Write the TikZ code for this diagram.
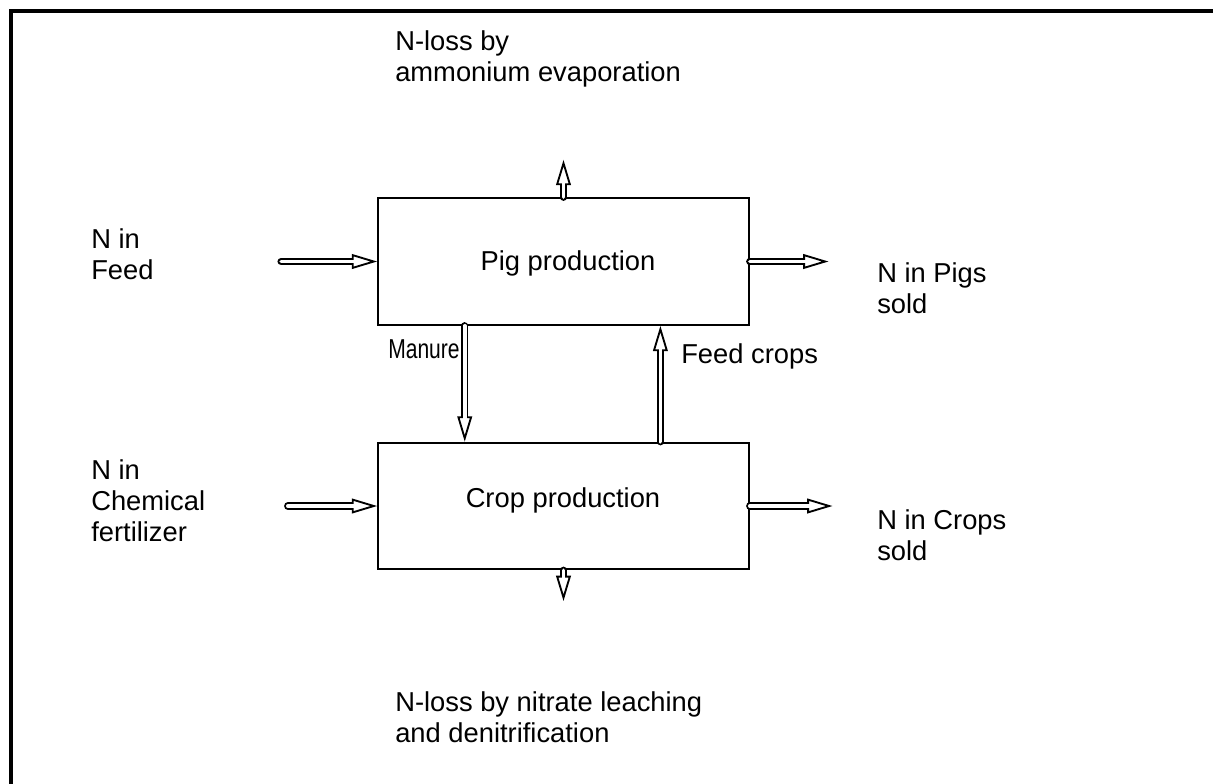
\documentclass[tikz,border=0pt]{standalone}
\usepackage{fontspec}
\setmainfont{Liberation Sans}
\usepackage{tikz}
\usetikzlibrary{positioning}
\usetikzlibrary{calc}
\usetikzlibrary{arrows.meta}

\begin{document}
\begin{tikzpicture}[
    x=0.75pt, y=-0.75pt,
    every node/.style={font=\fontsize{20.5}{23}\selectfont},
    stage/.style={draw, line width=1.5pt, minimum width=278pt, minimum height=95pt, inner sep=0pt},
    label/.style={align=left, inner sep=0pt, anchor=base west},
    flow/.style={line width=5.6pt, line cap=round,
        -{Triangle[length=19pt, width=11pt, fill=white, line width=1.4pt]},
        postaction={draw=white, line width=2.8pt, -, shorten >=14pt}}
]
\useasboundingbox (0,0) rectangle (1213,783);
\draw[line width=2.8pt] (11,820) -- (11,11) -- (1240,11);

\node[stage] (pig) at (563.5,261.5) {};
\node[stage] (crop) at (563.5,506) {};
\node[anchor=base] (pigtxt) at (568,270) {Pig production};
\node[anchor=base] (croptxt) at (563,507) {Crop production};

% texts, placed at the baseline of their last line
\node[label] (evaptxt) at (395,81) {N-loss by\\ammonium evaporation};
\node[label] (feedtxt) at (91,279) {N in\\Feed};
\node[label] (pigsold) at (877,313) {N in Pigs\\sold};
\node[label] (mantxt) at (388,358) {\scalebox{0.77}[1]{Manure}};
\node[label] (cropfeed) at (681,363) {Feed crops};
\node[label] (ferttxt) at (91,541) {N in\\Chemical\\fertilizer};
\node[label] (cropsold) at (877,560) {N in Crops\\sold};
\node[label] (leachtxt) at (395,742) {N-loss by nitrate leaching\\and denitrification};

% free ends
\coordinate (evap) at ([yshift=28pt]pig.north);
\coordinate (feedin) at ([xshift=-72pt]pig.west);
\coordinate (pigout) at ([xshift=59pt]pig.east);
\coordinate (fertin) at ([xshift=-67pt]crop.west);
\coordinate (cropout) at ([xshift=62pt]crop.east);
\coordinate (leach) at ([yshift=-23pt]crop.south);

\draw[flow] (pig.north) -- (evap);
\draw[flow] (feedin) -- (pig.west);
\draw[flow] (pig.east) -- (pigout);
\draw[flow] ($(pig.south west)!0.235!(pig.south east)$) -- ($(crop.north west)!0.235!(crop.north east)$);
\draw[flow] ($(crop.north west)!0.76!(crop.north east)$) -- ($(pig.south west)!0.76!(pig.south east)$);
\draw[flow] (fertin) -- (crop.west);
\draw[flow] (crop.east) -- (cropout);
\draw[flow] (crop.south) -- (leach);
\end{tikzpicture}
\end{document}
